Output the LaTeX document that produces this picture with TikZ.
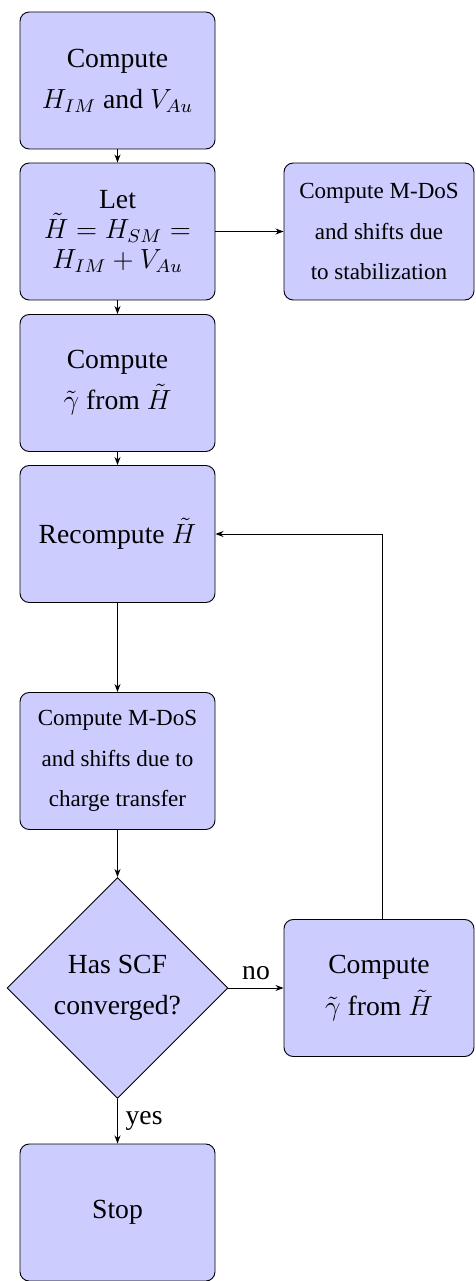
\documentclass[tikz,border=0pt]{standalone}
\usepackage{fontspec}
\setmainfont{Liberation Serif}
\usetikzlibrary{shapes.geometric,arrows.meta}
\begin{document}
\begin{tikzpicture}[x=0.4337pt,y=-0.4337pt,
  box/.style={draw=black, fill=blue!20, rounded corners=4pt, line width=0.4pt,
    minimum width=84.57pt, minimum height=59.42pt, inner sep=0pt, align=center,
    font=\fontsize{12}{17.8}\selectfont},
  sidebox/.style={box, minimum width=82.4pt},
  smalltext/.style={font=\fontsize{10}{17.7}\selectfont},
  decision/.style={draw=black, fill=blue!20, diamond, aspect=1, line width=0.4pt,
    minimum width=95.85pt, minimum height=95.85pt, inner sep=0pt, align=center,
    font=\fontsize{12}{17.8}\selectfont},
  arrow/.style={-{Stealth[length=3.5pt,width=2.6pt]}, line width=0.4pt},
  lbl/.style={font=\fontsize{12}{14}\selectfont}]
\useasboundingbox (0,0) rectangle (475,1281);
\node[box] (b1) at (117.5,80.5) {Compute\\ $H_{IM}$ and $V_{Au}$};
\node[box, font=\fontsize{12}{13}\selectfont] (b2) at (117.5,231.5) {Let\\ $\tilde{H}=H_{SM}=$\\ $H_{IM}+V_{Au}$};
\node[sidebox, smalltext] (sA) at (379,231.5) {Compute M-DoS\\ and shifts due\\ to stabilization};
\node[box] (b3) at (117.5,383) {Compute\\ $\tilde{\gamma}$ from $\tilde{H}$};
\node[box] (b4) at (117.5,534) {Recompute $\tilde{H}$};
\node[box, smalltext] (b5) at (117.5,761) {Compute M-DoS\\ and shifts due to\\ charge transfer};
\node[decision] (d) at (117.5,988) {Has SCF\\ converged?};
\node[sidebox] (sB) at (379,988) {Compute\\ $\tilde{\gamma}$ from $\tilde{H}$};
\node[box] (stop) at (117.5,1212.5) {Stop};
\draw[arrow] (b1) -- (b2);
\draw[arrow] (b2) -- (sA);
\draw[arrow] (b2) -- (b3);
\draw[arrow] (b3) -- (b4);
\draw[arrow] (b4) -- (b5);
\draw[arrow] (b5) -- (d);
\draw[arrow] (d) -- node[above, lbl] {no} (sB);
\draw[arrow] (d) -- node[right, lbl] {yes} (stop);
\draw[arrow] ([xshift=1.3pt]sB.north) |- (b4.east);
\end{tikzpicture}
\end{document}
